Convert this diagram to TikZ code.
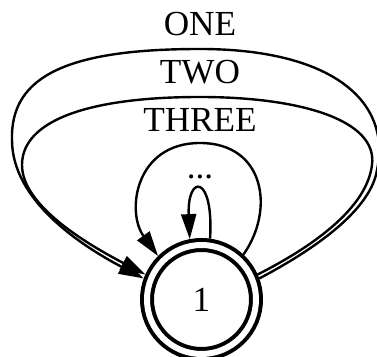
\documentclass[tikz,border=0pt]{standalone}
\usepackage{fontspec}
\setmainfont{Liberation Serif}
\usetikzlibrary{arrows.meta}
\tikzset{
  accept/.style={circle, draw=black, line width=2pt, double=white, double distance=3pt,
    minimum size=54.5pt, inner sep=0pt, outer sep=3.5pt, font=\fontsize{17.6}{20}\selectfont},
  arr/.style={-{Triangle[length=12.5pt,width=7.5pt]}, line width=1.2pt, draw=black},
  lbl/.style={font=\fontsize{17.6}{20}\selectfont, inner sep=0pt},
}

\begin{document}
\begin{tikzpicture}[x=0.5pt, y=-0.5pt]
\useasboundingbox (0,0) rectangle (377,357);
\node[accept] (s1) at (201.5,299.5) {1};

% labels of the loops
\node[lbl] (one)   at (200,24.5)  {ONE};
\node[lbl] (two)   at (200,72.5)  {TWO};
\node[lbl] (three) at (200,119.5) {THREE};
\node[lbl] (dots)  at (200,177)   {...};

% ONE
\draw[arr] (s1.20) .. controls (300,257) and (370,215) .. (377,170)
  .. controls (392,100) and (330,49) .. (200,49)
  .. controls (70,49) and (10,75) .. (12,140)
  .. controls (12,200) and (80,245) .. (s1.160);
% TWO
\draw[arr] (s1.24) .. controls (298,254) and (366,214) .. (372,165)
  .. controls (378,120) and (300,97) .. (200,97)
  .. controls (90,97) and (22,120) .. (22,165)
  .. controls (22,205) and (85,243) .. (s1.156);
% THREE
\draw[arr] (s1.47) .. controls (275,210) and (265,143) .. (200,143)
  .. controls (135,143) and (126,212) .. (s1.135);
% ...
\draw[arr] (s1.82) .. controls (214,174) and (187,174) .. (s1.101);
\end{tikzpicture}
\end{document}
